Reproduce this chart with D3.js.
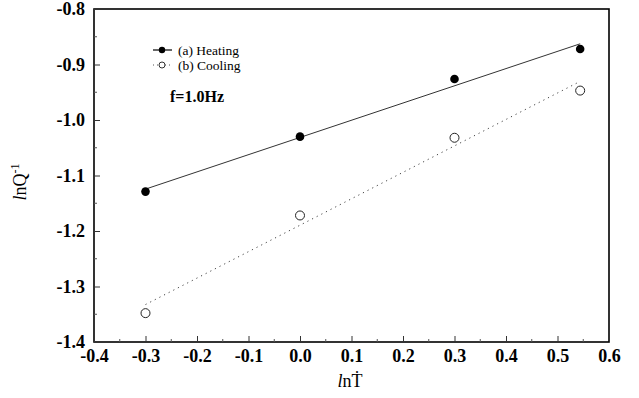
<!DOCTYPE html>
<html lang="en">
<head>
    <meta charset="UTF-8">
    <title>lnQ-1 vs lnT</title>
    <script src="https://d3js.org/d3.v7.min.js"></script>
    <style>
        body, html {
            margin: 0px;
            background: #fff;
            font-family: 'Liberation Serif', 'Times New Roman', serif;
        }
    </style>
</head>
<body>
    <div id="chart"></div>
    <script>
        // data
        const lnTdot = [-0.3, 0.0, 0.3, 0.544]
        const heating = [-1.129, -1.030, -0.926, -0.872]
        const cooling = [-1.348, -1.172, -1.032, -0.947]
        const xTicks = [-0.4, -0.3, -0.2, -0.1, 0.0, 0.1, 0.2, 0.3, 0.4, 0.5, 0.6]
        const yTicks = [-0.8, -0.9, -1.0, -1.1, -1.2, -1.3, -1.4]

        const width = 639, height = 398
        const margin = { top: 9, right: 30, bottom: 56, left: 94 }

        const svg = d3.select("#chart").append("svg")
            .attr("width", width)
            .attr("height", height)

        const x = d3.scaleLinear().domain([-0.4, 0.6]).range([margin.left, width - margin.right])
        const y = d3.scaleLinear().domain([-1.4, -0.8]).range([height - margin.bottom, margin.top])

        // least squares fit, like the original plot
        function fit(xs, ys) {
            const mx = d3.mean(xs), my = d3.mean(ys)
            let sxy = 0, sxx = 0
            xs.forEach((v, i) => { sxy += (v - mx) * (ys[i] - my); sxx += (v - mx) * (v - mx) })
            const b = sxy / sxx
            return { a: my - b * mx, b: b }
        }

        // frame
        svg.append("rect")
            .attr("x", x(-0.4)).attr("y", y(-0.8))
            .attr("width", x(0.6) - x(-0.4)).attr("height", y(-1.4) - y(-0.8))
            .attr("fill", "none").attr("stroke", "#000").attr("stroke-width", 1.6)

        const fmt = d => d3.format(".1f")(d).replace("−", "-")

        // x ticks (inward)
        const xAxis = d3.axisBottom(x).tickValues(xTicks).tickSize(-6).tickPadding(7)
        const gx = svg.append("g").attr("transform", `translate(0,${y(-1.4)})`).call(xAxis)
        gx.select(".domain").remove()
        gx.selectAll(".tick line").attr("stroke", "#333")
        gx.selectAll("text").attr("font-size", 18).attr("font-weight", "bold")
            .attr("font-family", "'Liberation Serif', serif").attr("fill", "#000")
            .text(fmt)
        const xMinor = d3.range(-0.35, 0.6, 0.1)
        svg.append("g").selectAll("line").data(xMinor).join("line")
            .attr("x1", d => x(d)).attr("x2", d => x(d))
            .attr("y1", y(-1.4)).attr("y2", y(-1.4) - 3)
            .attr("stroke", "#555")

        // y ticks (inward)
        const yAxis = d3.axisLeft(y).tickValues(yTicks).tickSize(-6).tickPadding(9)
        const gy = svg.append("g").attr("transform", `translate(${x(-0.4)},0)`).call(yAxis)
        gy.select(".domain").remove()
        gy.selectAll(".tick line").attr("stroke", "#333")
        gy.selectAll("text").attr("font-size", 18).attr("font-weight", "bold")
            .attr("font-family", "'Liberation Serif', serif").attr("fill", "#000")
            .text(fmt)
        const yMinor = d3.range(-1.35, -0.8, 0.1)
        svg.append("g").selectAll("line").data(yMinor).join("line")
            .attr("x1", x(-0.4)).attr("x2", x(-0.4) + 3)
            .attr("y1", d => y(d)).attr("y2", d => y(d))
            .attr("stroke", "#555")

        // fitted lines
        const fh = fit(lnTdot, heating)
        const fc = fit(lnTdot, cooling)
        const x0 = d3.min(lnTdot), x1 = d3.max(lnTdot)
        svg.append("line")
            .attr("x1", x(x0)).attr("y1", y(fh.a + fh.b * x0))
            .attr("x2", x(x1)).attr("y2", y(fh.a + fh.b * x1))
            .attr("stroke", "#333").attr("stroke-width", 1)
        svg.append("line")
            .attr("x1", x(x0)).attr("y1", y(fc.a + fc.b * x0))
            .attr("x2", x(x1)).attr("y2", y(fc.a + fc.b * x1))
            .attr("stroke", "#444").attr("stroke-width", 1).attr("stroke-dasharray", "1.2,4")

        // points
        svg.append("g").selectAll("circle").data(lnTdot).join("circle")
            .attr("cx", d => x(d)).attr("cy", (d, i) => y(heating[i]))
            .attr("r", 4.3).attr("fill", "#000")
        svg.append("g").selectAll("circle").data(lnTdot).join("circle")
            .attr("cx", d => x(d)).attr("cy", (d, i) => y(cooling[i]))
            .attr("r", 4.5).attr("fill", "#fff").attr("stroke", "#222").attr("stroke-width", 1)

        // legend
        const leg = svg.append("g").attr("font-size", 13.5).attr("fill", "#000")
        leg.append("line").attr("x1", 153).attr("x2", 172).attr("y1", 50).attr("y2", 50)
            .attr("stroke", "#000").attr("stroke-width", 1.2)
        leg.append("circle").attr("cx", 162).attr("cy", 50).attr("r", 3.2).attr("fill", "#000")
        leg.append("text").attr("x", 178).attr("y", 54.5).text("(a) Heating")
        leg.append("line").attr("x1", 153).attr("x2", 172).attr("y1", 65).attr("y2", 65)
            .attr("stroke", "#555").attr("stroke-dasharray", "1,3")
        leg.append("circle").attr("cx", 162).attr("cy", 65).attr("r", 3).attr("fill", "#fff")
            .attr("stroke", "#333")
        leg.append("text").attr("x", 178).attr("y", 69.5).text("(b) Cooling")

        svg.append("text").attr("x", 170).attr("y", 102)
            .attr("font-size", 16).attr("font-weight", "bold").text("f=1.0Hz")

        // axis titles
        const xt = svg.append("text").attr("x", 350).attr("y", 387)
            .attr("text-anchor", "middle").attr("font-size", 18)
        xt.append("tspan").attr("font-style", "italic").text("l")
        xt.append("tspan").text("nT\u0307")

        const yt = svg.append("text")
            .attr("transform", `translate(26,182) rotate(-90)`)
            .attr("text-anchor", "middle").attr("font-size", 18)
        yt.append("tspan").attr("font-style", "italic").text("l")
        yt.append("tspan").text("nQ")
        yt.append("tspan").attr("font-size", 12).attr("dy", -7).text("-1")
    </script>
</body>
</html>
